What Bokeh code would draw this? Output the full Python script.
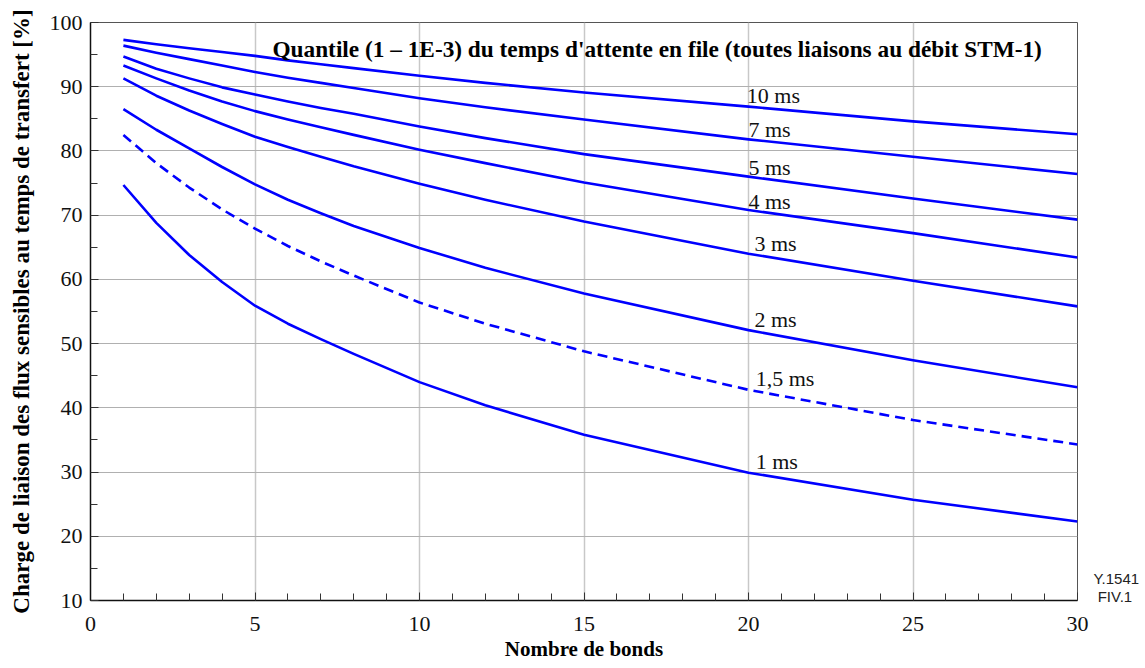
from bokeh.plotting import figure
from bokeh.models import Range1d, FixedTicker, Label, ColumnDataSource, LinearAxis
from bokeh.core.properties import value
from bokeh.embed import file_html
from bokeh.resources import INLINE

# ---- data ----
hops = [1, 2, 3, 4, 5, 6, 7, 8, 10, 12, 15, 20, 25, 30]
load_10ms = [97.3, 96.6, 96.0, 95.4, 94.8, 94.1, 93.5, 92.9, 91.7, 90.6, 89.1, 86.9, 84.6, 82.6]
load_7ms = [96.4, 95.3, 94.3, 93.3, 92.3, 91.4, 90.6, 89.8, 88.2, 86.8, 84.9, 81.8, 79.1, 76.4]
load_5ms = [94.7, 92.8, 91.3, 89.9, 88.8, 87.7, 86.7, 85.8, 83.8, 82.0, 79.5, 76.0, 72.6, 69.3]
load_4ms = [93.3, 91.3, 89.4, 87.7, 86.2, 84.9, 83.7, 82.5, 80.2, 78.1, 75.1, 70.8, 67.2, 63.4]
load_3ms = [91.3, 88.6, 86.3, 84.2, 82.2, 80.6, 79.1, 77.6, 74.9, 72.4, 69.0, 64.0, 59.8, 55.8]
load_2ms = [86.5, 83.3, 80.4, 77.5, 74.8, 72.4, 70.3, 68.3, 64.9, 61.8, 57.8, 52.1, 47.4, 43.2]
load_1_5ms = [82.5, 78.1, 74.3, 70.9, 67.9, 65.2, 62.8, 60.6, 56.4, 53.1, 48.8, 42.8, 38.1, 34.3]
load_1ms = [74.7, 68.8, 63.8, 59.6, 55.9, 53.1, 50.7, 48.4, 44.0, 40.4, 35.8, 29.9, 25.7, 22.3]

curve_labels = ["10 ms", "7 ms", "5 ms", "4 ms", "3 ms", "2 ms", "1,5 ms", "1 ms"]
label_x = [19.95, 20.0, 20.0, 20.0, 20.18, 20.18, 20.22, 20.22]
label_y = [88.7, 83.3, 77.4, 72.1, 65.6, 53.8, 44.5, 31.6]

x_ticks = [0, 5, 10, 15, 20, 25, 30]
x_minor = list(range(1, 30))
y_ticks = [10, 20, 30, 40, 50, 60, 70, 80, 90, 100]
y_minor = [15, 25, 35, 45, 55, 65, 75, 85, 95]

title_text = "Quantile (1 \u2013 1E-3) du temps d'attente en file (toutes liaisons au d\u00e9bit STM-1)"
x_label = "Nombre de bonds"
y_label = "Charge de liaison des flux sensibles au temps de transfert [%]"
ref_ticks = [13.5, 10.55]
ref_texts = ["Y.1541", "\u00a0FIV.1"]

SERIF = "Liberation Serif"
BLUE = "#0000ff"

p = figure(width=1145, height=668, output_backend="svg", toolbar_location=None,
           x_range=Range1d(0, 30), y_range=Range1d(10, 100),
           min_border_left=90, min_border_right=68, min_border_top=22, min_border_bottom=68)
p.background_fill_color = "white"
p.border_fill_color = "white"
p.outline_line_color = "#555555"
p.outline_line_width = 1

# axes
p.xaxis.ticker = FixedTicker(ticks=x_ticks, minor_ticks=x_minor)
p.yaxis.ticker = FixedTicker(ticks=y_ticks, minor_ticks=y_minor)
for ax in (p.xaxis, p.yaxis):
    ax.major_tick_in = 8
    ax.major_tick_out = 0
    ax.minor_tick_in = 7
    ax.minor_tick_out = 0
    ax.major_tick_line_color = "#333333"
    ax.minor_tick_line_color = "#333333"
    ax.axis_line_color = "#111111"
    ax.axis_line_width = 1.5
    ax.major_label_text_font = SERIF
    ax.major_label_text_font_size = "22px"
    ax.major_label_text_color = "#111111"
    ax.axis_label_text_font = SERIF
    ax.axis_label_text_font_style = "bold"
    ax.axis_label_text_color = "black"
p.xaxis.axis_label = x_label
p.yaxis.axis_label = y_label
p.xaxis.axis_label_text_font_size = "21px"
p.yaxis.axis_label_text_font_size = "23px"
p.xaxis.major_label_standoff = 16
p.yaxis.major_label_standoff = 8
p.xaxis.axis_label_standoff = 3
p.yaxis.axis_label_standoff = 13

# reference tag on the right side
ref_axis = LinearAxis(ticker=FixedTicker(ticks=ref_ticks),
                      major_label_overrides={t: s for t, s in zip(ref_ticks, ref_texts)})
ref_axis.axis_line_color = None
ref_axis.major_tick_line_color = None
ref_axis.minor_tick_line_color = None
ref_axis.major_tick_in = 0
ref_axis.major_tick_out = 0
ref_axis.major_label_standoff = 16
ref_axis.major_label_text_font = "Liberation Sans"
ref_axis.major_label_text_font_size = "15px"
ref_axis.major_label_text_color = "#222222"
p.add_layout(ref_axis, "right")

p.xgrid.grid_line_color = "#c8c8c8"
p.xgrid.grid_line_width = 1.5
p.ygrid.grid_line_color = "#b0b0b0"
p.ygrid.grid_line_width = 1

series = [load_10ms, load_7ms, load_5ms, load_4ms, load_3ms, load_2ms, load_1_5ms, load_1ms]
for i, ys in enumerate(series):
    dash = "10 6" if curve_labels[i] == "1,5 ms" else "solid"
    p.line(hops, ys, line_color=BLUE, line_width=2.6, line_dash=dash, line_join="round")

src = ColumnDataSource(dict(x=label_x, y=label_y, t=curve_labels))
p.text(x="x", y="y", text="t", source=src, text_font=value(SERIF), text_font_size="22px",
       text_color="#111111", text_baseline="alphabetic", text_align="left")

p.add_layout(Label(x=5.53, y=95.95, text=title_text, text_font=SERIF, text_font_style="bold",
                   text_font_size="23.3px", text_color="black", text_baseline="alphabetic"))

open("out.html", "w").write(file_html(p, INLINE))
